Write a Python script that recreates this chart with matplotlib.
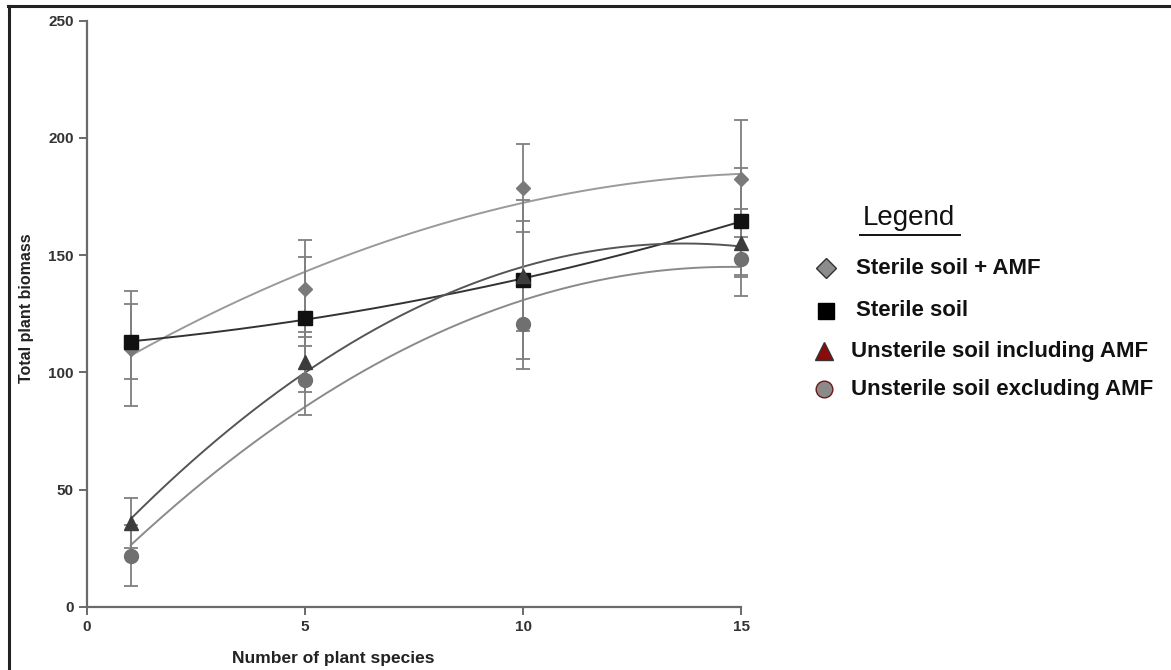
import numpy as np
import matplotlib.pyplot as plt
from matplotlib.lines import Line2D

plt.rcParams['font.family'] = ['Liberation Sans', 'DejaVu Sans']

# number of plant species
species = [1, 5, 10, 15]

# total plant biomass (mean, error)
amf_mean = [110, 135.6, 178.8, 182.6]
amf_err = [24.5, 20.7, 18.8, 25]
sterile_mean = [113, 123, 139.6, 164.5]
sterile_err = [16, 26, 34, 22.8]
incl_mean = [35.6, 104.4, 141, 155]
incl_err = [10.7, 13, 23.5, 14.5]
excl_mean = [21.7, 96.6, 120.7, 148.2]
excl_err = [13, 14.6, 19.3, 15.7]

labels = ['Sterile soil + AMF', 'Sterile soil',
          'Unsterile soil including AMF', 'Unsterile soil excluding AMF']

series = [
    # mean, err, marker, size, face, line colour
    (amf_mean, amf_err, 'D', 7, '#7a7a7a', '#9a9a9a'),
    (sterile_mean, sterile_err, 's', 10, '#111111', '#333333'),
    (incl_mean, incl_err, '^', 10, '#3c3c3c', '#555555'),
    (excl_mean, excl_err, 'o', 10, '#707070', '#8a8a8a'),
]

fig = plt.figure(figsize=(11.71, 6.70), dpi=100)
ax = fig.add_axes([0.0743, 0.0945, 0.5585, 0.8745])

xs = np.array(species, dtype=float)
xfit = np.linspace(xs.min(), xs.max(), 200)
for mean, err, mk, ms, face, lc in series:
    coef = np.polyfit(xs, mean, 2)
    ax.plot(xfit, np.polyval(coef, xfit), color=lc, lw=1.4, zorder=2)
    eb = ax.errorbar(xs, mean, yerr=err, fmt='none', ecolor='#7f7f7f',
                     elinewidth=1.3, capsize=5, capthick=1.3, zorder=3)
    for a in eb.lines[1] + eb.lines[2]:
        a.set_clip_on(False)
    ax.plot(xs, mean, ls='none', marker=mk, ms=ms, mfc=face, mec=face,
            zorder=4, clip_on=False)

ax.set_xlim(0, 15)
ax.set_ylim(0, 250)
ax.set_xticks([0, 5, 10, 15])
ax.set_yticks([0, 50, 100, 150, 200, 250])
for s in ['top', 'right']:
    ax.spines[s].set_visible(False)
for s in ['left', 'bottom']:
    ax.spines[s].set_color('#6a6a6a')
    ax.spines[s].set_linewidth(1.6)
ax.tick_params(direction='out', length=6, width=1.4, color='#6a6a6a',
               labelsize=11, labelcolor='#333333')
for t in ax.get_xticklabels() + ax.get_yticklabels():
    t.set_fontweight('bold')
ax.set_xlabel('Number of plant species', fontsize=12.5, fontweight='bold',
              color='#222222')
ax.xaxis.set_label_coords(0.376, -0.075)
ax.set_ylabel('Total plant biomass', fontsize=11.5, fontweight='bold',
              color='#222222')
ax.yaxis.set_label_coords(-0.081, 0.51)

# manual legend
fig.text(0.776, 0.675, 'Legend', fontsize=20, color='#111111',
         ha='center', va='center')
fig.add_artist(Line2D([0.734, 0.820], [0.650, 0.650], color='#111111', lw=1.4))

leg_marks = [('D', 10, '#8c8c8c', '#333333'),
             ('s', 11, '#000000', '#000000'),
             ('^', 13, '#8b0a0a', '#333333'),
             ('o', 12, '#8a8a8a', '#6b1a1a')]
leg_x = [0.705, 0.705, 0.704, 0.704]
txt_x = [0.731, 0.731, 0.727, 0.727]
leg_y = [0.600, 0.536, 0.476, 0.419]
for (mk, ms, fc, ec), mx, tx, y, lab in zip(leg_marks, leg_x, txt_x, leg_y, labels):
    fig.add_artist(Line2D([mx], [y], marker=mk, ms=ms, mfc=fc, mec=ec, ls='none'))
    fig.text(tx, y, lab, fontsize=16, fontweight='bold', color='#111111', va='center')

# frame lines
fig.add_artist(Line2D([0.007, 1.0], [0.991, 0.991], color='#222222', lw=2.2))
fig.add_artist(Line2D([0.008, 0.008], [0.0, 0.991], color='#222222', lw=2.2))

fig.savefig('out.png', dpi=100)
